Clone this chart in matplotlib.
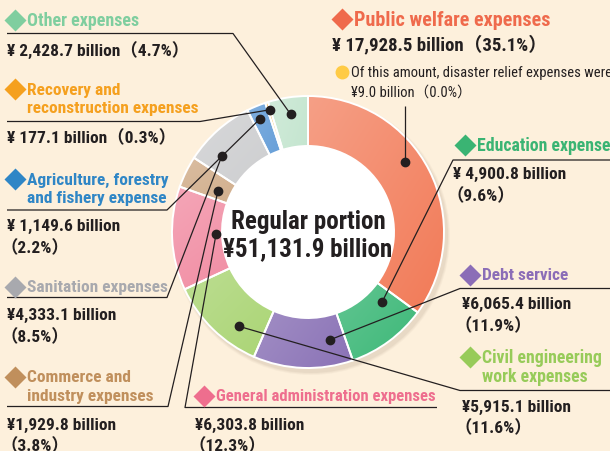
import numpy as np
import matplotlib
matplotlib.use("Agg")
import matplotlib.pyplot as plt
from matplotlib.patches import Circle
from matplotlib.colors import to_rgb

# data, clockwise from top
categories = ["Public welfare expenses", "Education expenses", "Debt service",
              "Civil engineering work expenses", "General administration expenses",
              "Commerce and industry expenses", "Sanitation expenses",
              "Agriculture, forestry and fishery expense",
              "Recovery and reconstruction expenses", "Other expenses"]
values = [17928.5, 4900.8, 6065.4, 5915.1, 6303.8, 1929.8, 4333.1, 1149.6, 177.1, 2428.7]
shares = [35.1, 9.6, 11.9, 11.6, 12.3, 3.8, 8.5, 2.2, 0.3, 4.7]
total = 51131.9
disaster_relief = 9.0
disaster_share = 0.0

colors = ["#F27A57", "#3DB878", "#8A72B6", "#A7D36F", "#F0849C",
          "#CBA37C", "#C8C9CB", "#4E8FD2", "#F5A623", "#BFE3CB"]
title_colors = ["#EF6A4C", "#3AB473", "#8B6DB7", "#97CB59", "#EE6E8E",
                "#C08F5C", "#A8A9AE", "#2F86C6", "#F5A01E", "#7FCE9F"]

plt.rcParams['font.family'] = ['Roboto Condensed', 'Noto Sans CJK JP', 'DejaVu Sans']

BG = "#FDF0DC"
INK = "#231F20"
cx, cy, R, W = 308, 233, 136, 50

fig = plt.figure(figsize=(6.10, 4.52), dpi=100, facecolor=BG)
ax = fig.add_axes([0, 0, 1, 1])
ax.set_facecolor(BG)

# soft shadow
for k, a in enumerate([0.05, 0.06, 0.08]):
    ax.add_patch(Circle((cx + 3, cy + 4), R + 3 - k, color="#8a7a66", alpha=a, lw=0, zorder=1))

wedges, _ = ax.pie(values, colors=colors, startangle=-90, counterclock=True,
                   center=(cx, cy), radius=R, frame=True,
                   wedgeprops=dict(width=W, edgecolor="white", linewidth=1.4))

# gentle diagonal gradient inside each wedge
n = 64
gi, gj = np.mgrid[0:n, 0:n] / (n - 1)
t = (gi + gj) / 2
for w, c in zip(wedges, colors):
    w.set_zorder(3)
    v = w.get_path().vertices
    x0, x1 = v[:, 0].min(), v[:, 0].max()
    y0, y1 = v[:, 1].min(), v[:, 1].max()
    base = np.array(to_rgb(c))
    light = base + (1 - base) * 0.28
    img = light[None, None, :] * (1 - t[..., None]) + base[None, None, :] * t[..., None]
    im = ax.imshow(img, extent=(x0, x1, y1, y0), origin="upper", aspect="auto",
                   interpolation="bilinear", zorder=2)
    im.set_clip_path(w)
    w.set_facecolor("none")

ax.add_patch(Circle((cx, cy), R - W, color="white", lw=0, zorder=4))

# dot positions inside wedges (fraction of wedge angle, radius)
dot_frac = [0.43, 0.21, 0.18, 0.31, 0.53, 0.39, 0.28, 0.44, 0.9, 0.51]
dot_rad = [120, 102, 110, 117, 92, 99, 115, 123, 128, 119]
dots = []
for w, f, r in zip(wedges, dot_frac, dot_rad):
    th = np.radians(w.theta1 + f * (w.theta2 - w.theta1))
    dots.append((cx + r * np.cos(th), cy + r * np.sin(th)))

# leader polylines: underline start, underline end -> dot
leaders = [
    None,
    [(610, 161), (453, 161)],
    [(610, 289.5), (460, 289.5)],
    [(610, 391.5), (460, 391.5)],
    [(437, 408.5), (185, 408.5)],
    [(7, 407.5), (168, 407.5)],
    [(7, 298.5), (167, 298.5)],
    [(7, 211), (167, 211)],
    [(7, 122.5), (200, 122.5)],
    [(7, 34.5), (233, 34.5)],
]
for d, L in zip(dots, leaders):
    if L is None:
        pts = [(d[0], 107), d]
    else:
        pts = L + [d]
    xs, ys = zip(*pts)
    ax.plot(xs, ys, color=INK, lw=0.9, zorder=5, solid_capstyle="butt")
    ax.plot(d[0], d[1], "o", color=INK, ms=6, zorder=6)


def fmt(v, space=True):
    return ("¥ " if space else "¥") + f"{v:,.1f} billion"


def pct(s):
    return f"（{s}%）"


def title(x, y, i, lines, size=12.5):
    ax.plot(x + 8, y, marker="D", ms=11, color=title_colors[i], mec="none", zorder=6)
    for k, s in enumerate(lines):
        ax.text(x + 20, y + k * 19, s, color=title_colors[i], fontsize=size,
                fontweight="bold", va="center", ha="left", zorder=6)


def body(x, y, s, size=12.5):
    ax.text(x, y, s, color=INK, fontsize=size, fontweight="bold", va="center", ha="left", zorder=6)


# Public welfare
title(334, 20, 0, ["Public welfare expenses"], size=14.5)
body(332, 45, fmt(values[0]) + pct(shares[0]), size=13.5)
ax.plot(342, 73, "o", ms=10, color="#FFCB45", mec="none", zorder=6)
ax.text(351, 72.5, "Of this amount, disaster relief expenses were", fontsize=10.5,
        color=INK, va="center", zorder=6)
ax.text(351, 92.5, f"¥{disaster_relief:.1f} billion（{disaster_share:.1f}%）", fontsize=10.5,
        color=INK, va="center", zorder=6)

# Education
title(457, 146, 1, ["Education expenses"], size=12.8)
body(453, 174.5, fmt(values[1]))
body(446, 195.5, pct(shares[1]))

# Debt service
title(462, 276, 2, ["Debt service"])
body(462, 304.5, fmt(values[2], False))
body(455, 325.5, pct(shares[2]))

# Civil engineering
title(462, 358, 3, ["Civil engineering", "work expenses"], size=12.8)
body(462, 407, fmt(values[3], False))
body(455, 428, pct(shares[3]))

# General administration
title(196, 397, 4, ["General administration expenses"], size=12)
body(195, 425.5, fmt(values[4], False))
body(188, 446, pct(shares[4]))

# Commerce and industry
title(7, 378, 5, ["Commerce and", "industry expenses"])
body(7, 425.5, fmt(values[5], False))
body(0, 446, pct(shares[5]))

# Sanitation
title(7, 288, 6, ["Sanitation expenses"])
body(7, 315.5, fmt(values[6], False))
body(0, 336.5, pct(shares[6]))

# Agriculture
title(7, 180, 7, ["Agriculture, forestry", "and fishery expense"])
body(7, 226.5, fmt(values[7]))
body(0, 247.5, pct(shares[7]))

# Recovery
title(7, 90, 8, ["Recovery and", "reconstruction expenses"])
body(7, 138, fmt(values[8]) + pct(shares[8]))

# Other
title(7, 21, 9, ["Other expenses"], size=13)
body(7, 50, fmt(values[9]) + pct(shares[9]))

# center label
ax.text(cx, 222, "Regular portion", ha="center", va="center", fontsize=18,
        fontweight="bold", color=INK, zorder=7)
ax.text(cx, 249, f"¥{total:,.1f} billion", ha="center", va="center", fontsize=18,
        fontweight="bold", color=INK, zorder=7)

ax.set_xlim(0, 610)
ax.set_ylim(452, 0)
ax.axis("off")
fig.savefig("out.png", dpi=100, facecolor=BG)
